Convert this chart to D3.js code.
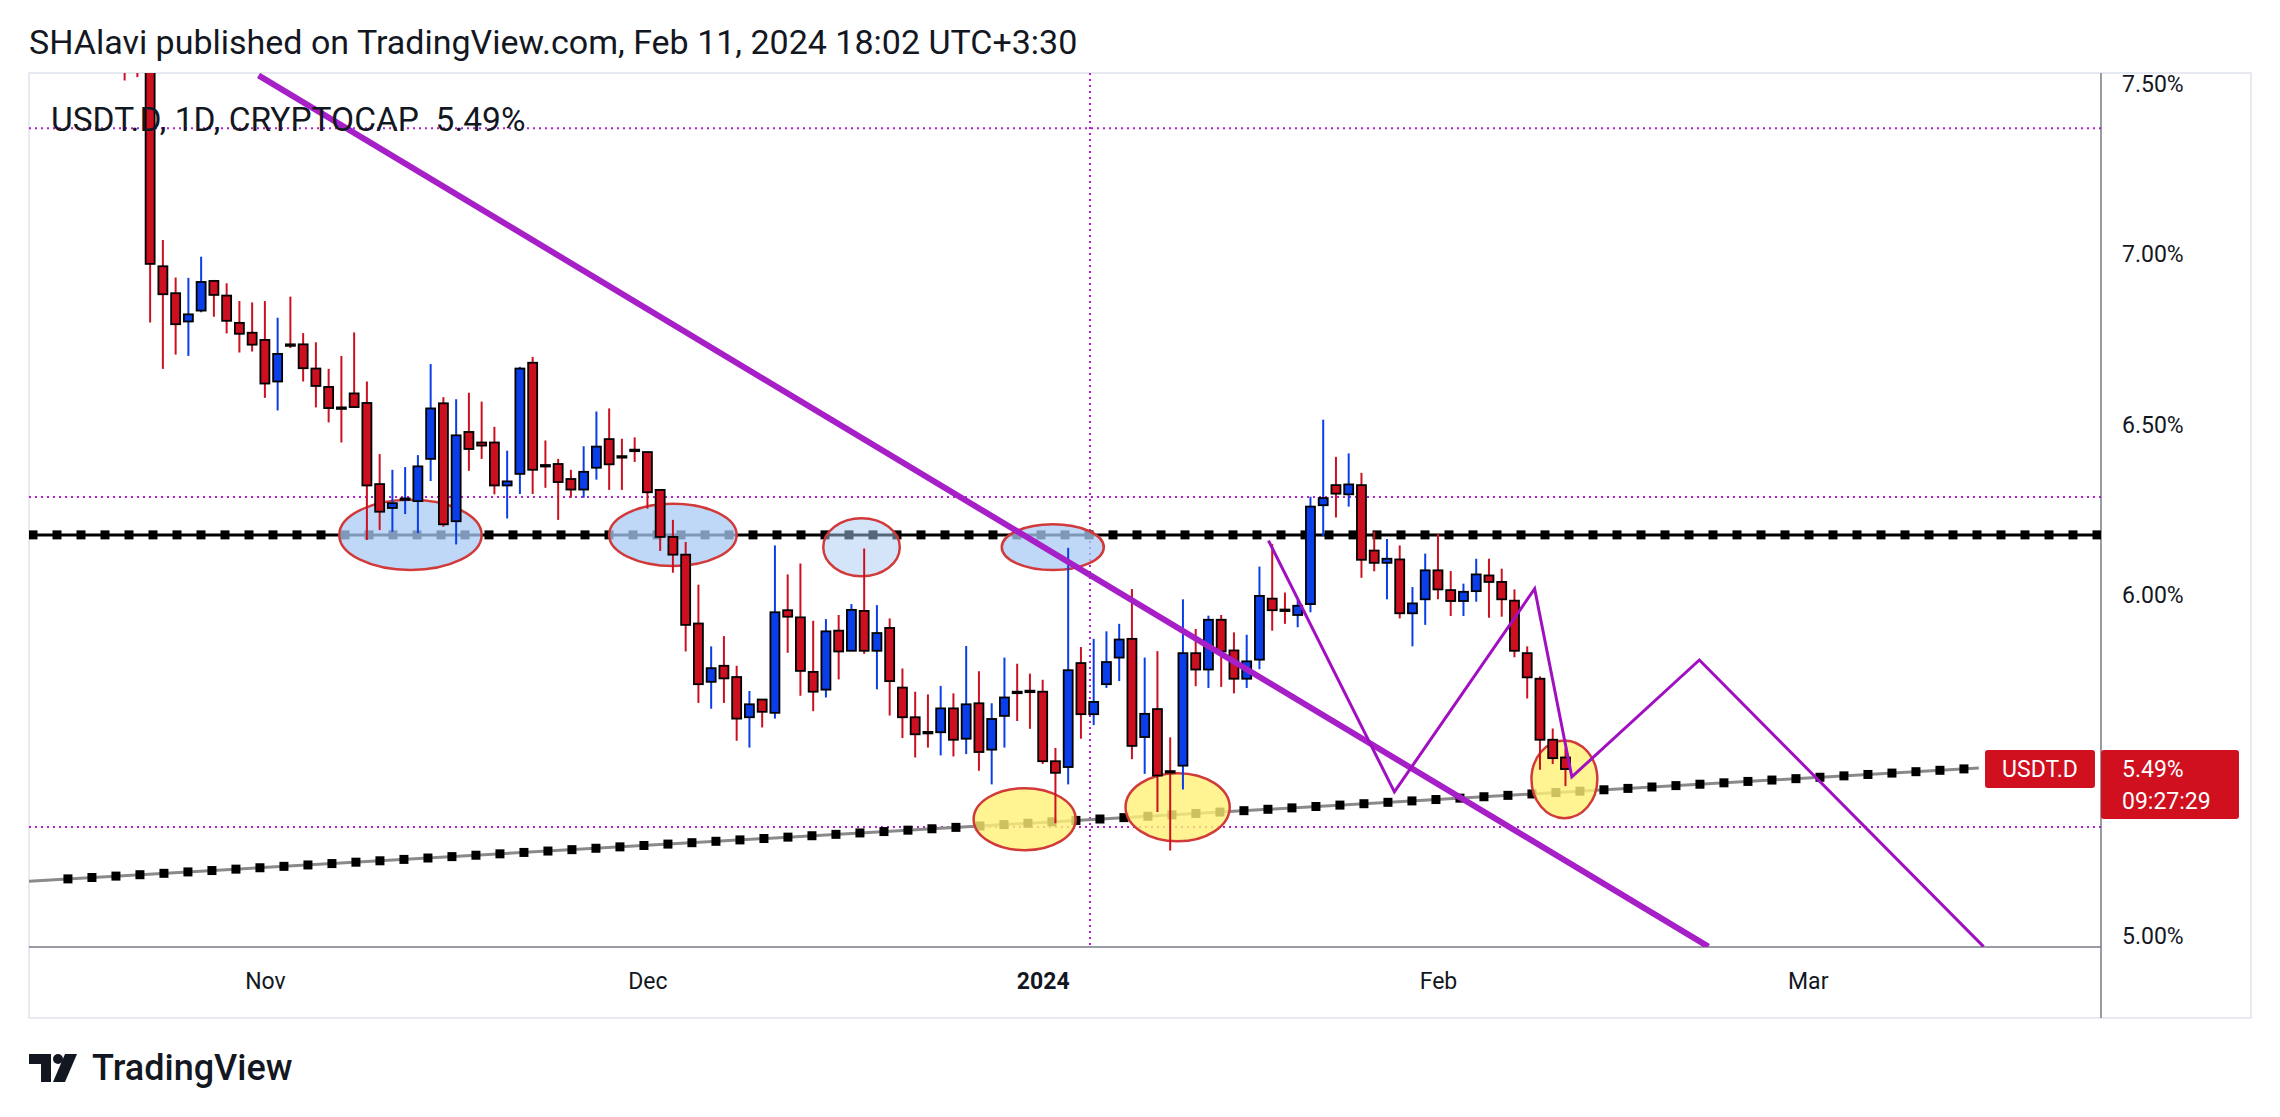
<!DOCTYPE html>
<html>
<head>
<meta charset="utf-8">
<script src="https://cdn.jsdelivr.net/npm/d3@7"></script>
<style>
  body { margin: 0; background: #fff; font-family: Roboto, "Noto Sans", sans-serif; }
  svg text { fill: #131722; }
</style>
</head>
<body>
<svg id="chart" width="2280" height="1117"></svg>
<script>
// USDT dominance, daily candles from Oct 21 2023
const startDay = new Date(2023, 9, 21);
const opens  = [7.65,7.60,7.58,6.965,6.886,6.803,6.835,6.922,6.879,6.799,6.770,
  6.749,6.627,6.736,6.736,6.665,6.611,6.551,6.592,6.564,6.326,6.256,6.283,6.276,6.40,6.563,6.217,6.479,6.448,6.448,6.322,6.356,6.682,6.382,6.385,6.341,6.310,6.374,6.458,6.408,6.427,
  6.420,6.309,6.171,6.119,5.917,5.746,5.793,5.760,5.642,5.694,5.655,5.956,5.935,5.775,5.723,5.896,5.837,5.954,5.837,5.904,5.729,5.642,5.599,5.598,5.668,5.579,5.683,5.547,5.646,5.717,5.720,
  5.717,5.513,5.496,5.801,5.651,5.739,5.817,5.872,5.584,5.666,5.484,5.500,5.830,5.782,5.928,5.838,5.755,5.811,5.990,5.958,5.942,5.974,6.264,6.323,6.296,6.323,6.131,6.095,6.105,5.947,5.988,
  6.073,6.015,5.983,6.012,6.058,6.039,5.984,5.830,5.755,5.576,5.524];
const highs  = [7.70,7.66,7.60,7.042,6.932,6.931,6.993,6.925,6.915,6.863,6.859,
  6.863,6.814,6.876,6.769,6.742,6.664,6.702,6.771,6.627,6.414,6.368,6.376,6.411,6.678,6.581,6.575,6.594,6.568,6.494,6.424,6.670,6.699,6.454,6.400,6.368,6.437,6.539,6.548,6.459,6.463,
  6.420,6.310,6.221,6.156,6.031,5.850,5.880,5.793,5.719,5.694,6.146,6.061,6.093,5.925,5.930,5.942,5.974,6.137,5.971,5.932,5.785,5.717,5.709,5.734,5.712,5.851,5.777,5.683,5.817,5.799,5.770,
  5.752,5.552,6.139,5.848,5.872,5.894,5.916,6.018,5.817,5.836,5.583,5.988,5.901,5.940,5.942,5.891,5.884,6.084,6.150,6.008,5.986,6.289,6.515,6.406,6.416,6.359,6.187,6.165,6.146,6.024,6.122,
  6.180,6.071,6.034,6.107,6.107,6.078,6.017,5.850,5.762,5.609,5.551];
const lows   = [7.51,7.52,6.80,6.664,6.706,6.702,6.830,6.817,6.768,6.712,6.715,
  6.579,6.542,6.725,6.627,6.551,6.507,6.448,6.550,6.162,6.191,6.186,6.238,6.182,6.335,6.201,6.149,6.365,6.400,6.296,6.225,6.297,6.297,6.315,6.221,6.286,6.286,6.339,6.309,6.309,6.391,
  6.254,6.130,6.066,5.835,5.684,5.667,5.684,5.573,5.553,5.612,5.638,5.831,5.705,5.660,5.700,5.753,5.837,5.828,5.724,5.647,5.581,5.524,5.553,5.530,5.527,5.534,5.485,5.445,5.553,5.631,5.608,
  5.505,5.331,5.445,5.579,5.619,5.728,5.748,5.519,5.476,5.364,5.251,5.430,5.733,5.728,5.731,5.712,5.728,5.783,5.896,5.916,5.906,5.950,6.173,6.228,6.260,6.051,6.070,5.988,5.932,5.850,5.913,
  5.988,5.939,5.939,5.981,5.934,5.937,5.818,5.697,5.488,5.505,5.440];
const closes = [7.60,7.58,6.972,6.883,6.795,6.824,6.919,6.881,6.805,6.767,6.735,
  6.621,6.708,6.734,6.666,6.614,6.549,6.549,6.552,6.322,6.245,6.270,6.284,6.378,6.548,6.208,6.469,6.429,6.439,6.322,6.334,6.665,6.368,6.381,6.332,6.310,6.362,6.436,6.384,6.407,6.426,
  6.302,6.171,6.119,5.913,5.739,5.786,5.756,5.638,5.680,5.658,5.950,5.937,5.778,5.717,5.894,5.835,5.957,5.837,5.889,5.748,5.642,5.592,5.598,5.668,5.576,5.680,5.540,5.637,5.700,5.716,5.719,
  5.513,5.479,5.780,5.651,5.687,5.804,5.870,5.558,5.652,5.471,5.483,5.830,5.782,5.928,5.835,5.755,5.806,5.998,5.956,5.957,5.969,6.260,6.285,6.298,6.325,6.104,6.095,6.107,5.947,5.976,6.073,
  6.017,5.983,6.010,6.061,6.039,5.988,5.837,5.759,5.576,5.522,5.49];
const dates = d3.timeDay.range(startDay, d3.timeDay.offset(startDay, closes.length));

const priceTicks = [5.0, 5.5, 6.0, 6.5, 7.0, 7.5];
const monthTicks = [new Date(2023,10,1), new Date(2023,11,1), new Date(2024,0,1), new Date(2024,1,1), new Date(2024,2,1)];

// drawings, in [date, price]
const trendDown  = [[new Date(2023,9,31,12), 7.525], [new Date(2024,1,22,5), 4.969]];
const trendUp    = [[new Date(2023,9,13,10), 5.161], [new Date(2024,2,14,10), 5.493]];
const zigzag     = [[new Date(2024,0,18,17), 6.16], [new Date(2024,0,28,14), 5.423], [new Date(2024,1,8,14), 6.019],
                    [new Date(2024,1,11,12), 5.467], [new Date(2024,1,21,12), 5.81], [new Date(2024,2,14,19), 4.969]];
const supportLevel = 6.177;
const hLevels    = [7.37, 6.288, 5.32];
const vLevel     = new Date(2024,0,4,17);
const circlesBlue   = [[new Date(2023,10,12,10), 6.177, 5.6, 0.103, 0.75], [new Date(2023,11,3), 6.177, 5.0, 0.091, 0.75],
                       [new Date(2023,11,17,19), 6.141, 3.0, 0.085, 0.5], [new Date(2024,0,1,19), 6.141, 4.0, 0.067, 0.75]];
const circlesYellow = [[new Date(2023,11,30,14), 5.343, 4.0, 0.091], [new Date(2024,0,11,14), 5.378, 4.1, 0.10], [new Date(2024,1,10,22), 5.46, 2.6, 0.114]];

const plot = { left: 29, right: 2101, top: 73, bottom: 947 };
const svg = d3.select('#chart');

const x = d3.scaleTime()
  .domain([new Date(2023,9,13,12), new Date(2024,2,24)])
  .range([plot.left, plot.right]);
const y = d3.scaleLinear()
  .domain([4.968, 7.532])
  .range([plot.bottom, plot.top]);

// frame
svg.append('rect').attr('x', 29).attr('y', 73).attr('width', 2222).attr('height', 945)
  .attr('fill', 'none').attr('stroke', '#e0e3eb').attr('stroke-width', 1.5);
svg.append('line').attr('x1', plot.right).attr('x2', plot.right).attr('y1', 73).attr('y2', 1018)
  .attr('stroke', '#787b86').attr('stroke-width', 1.5);
svg.append('line').attr('x1', 29).attr('x2', plot.right).attr('y1', plot.bottom).attr('y2', plot.bottom)
  .attr('stroke', '#787b86').attr('stroke-width', 1.5);

svg.append('defs').append('clipPath').attr('id', 'clip')
  .append('rect').attr('x', plot.left).attr('y', plot.top)
  .attr('width', plot.right - plot.left).attr('height', plot.bottom - plot.top);

const g = svg.append('g').attr('clip-path', 'url(#clip)');

// price axis
const yAxis = svg.append('g').attr('transform', `translate(${plot.right},0)`)
  .call(d3.axisRight(y).tickValues(priceTicks).tickSize(0).tickPadding(21)
    .tickFormat(d => d3.format('.2f')(d) + '%'));
yAxis.select('.domain').remove();
yAxis.selectAll('text').attr('font-size', 23).attr('font-family', 'Roboto').attr('fill', '#131722');

// time axis
const xAxis = svg.append('g').attr('transform', `translate(0,${plot.bottom})`)
  .call(d3.axisBottom(x).tickValues(monthTicks).tickSize(0).tickPadding(26)
    .tickFormat(d => d.getMonth() === 0 ? d3.timeFormat('%Y')(d) : d3.timeFormat('%b')(d)));
xAxis.select('.domain').remove();
xAxis.selectAll('text').attr('font-size', 23).attr('font-family', 'Roboto').attr('fill', '#131722')
  .attr('font-weight', d => d.getMonth() === 0 ? 'bold' : 'normal');

// horizontal dotted purple levels
g.selectAll('.hlev').data(hLevels).join('line')
  .attr('x1', plot.left).attr('x2', plot.right)
  .attr('y1', d => y(d)).attr('y2', d => y(d))
  .attr('stroke', '#b01fd0').attr('stroke-width', 2).attr('stroke-dasharray', '2,4');
g.append('line').attr('x1', x(vLevel)).attr('x2', x(vLevel)).attr('y1', plot.top).attr('y2', plot.bottom)
  .attr('stroke', '#b01fd0').attr('stroke-width', 2).attr('stroke-dasharray', '2,4');

// support line with square markers
const step = 24, sq = 9;
const sy = y(supportLevel);
g.append('line').attr('x1', plot.left).attr('x2', plot.right).attr('y1', sy).attr('y2', sy)
  .attr('stroke', '#000').attr('stroke-width', 3);
g.selectAll('.sq').data(d3.range(plot.left + 4, plot.right, step)).join('rect')
  .attr('x', d => d - sq / 2).attr('y', sy - sq / 2).attr('width', sq).attr('height', sq).attr('fill', '#000');

// rising trend line with square markers
const tx0 = x(trendUp[0][0]), ty0 = y(trendUp[0][1]);
const tx1 = x(trendUp[1][0]), ty1 = y(trendUp[1][1]);
g.append('line').attr('x1', tx0).attr('y1', ty0).attr('x2', tx1).attr('y2', ty1)
  .attr('stroke', '#8a8a8a').attr('stroke-width', 3);
g.selectAll('.sq2').data(d3.range(40, tx1 - tx0, step)).join('rect')
  .attr('x', t => tx0 + t - sq / 2)
  .attr('y', t => ty0 + t * (ty1 - ty0) / (tx1 - tx0) - sq / 2)
  .attr('width', sq).attr('height', sq).attr('fill', '#000');

// ellipses
const ell = (list, fill, op) => g.selectAll(null).data(list).join('ellipse')
  .attr('cx', d => x(d[0])).attr('cy', d => y(d[1]))
  .attr('rx', d => x(d3.timeHour.offset(d[0], d[2] * 24)) - x(d[0]))
  .attr('ry', d => y(d[1] - d[3]) - y(d[1]))
  .attr('fill', fill).attr('fill-opacity', d => d[4] || op)
  .attr('stroke', '#d23a3a').attr('stroke-width', 2.5);
ell(circlesBlue, '#a9cbf5', 0.75);
ell(circlesYellow, '#fff176', 0.8);

// candles
const candles = dates.map((d, i) => ({ d, o: opens[i], h: highs[i], l: lows[i], c: closes[i] }));
const up = '#0a3ee8', down = '#cc1020';
const cg = g.selectAll('.candle').data(candles).join('g');
cg.append('line')
  .attr('x1', d => x(d.d)).attr('x2', d => x(d.d))
  .attr('y1', d => y(d.h)).attr('y2', d => y(d.l))
  .attr('stroke', d => d.c >= d.o ? up : down).attr('stroke-width', 2);
cg.append('rect')
  .attr('x', d => x(d.d) - 4.5).attr('width', 9)
  .attr('y', d => y(Math.max(d.o, d.c)))
  .attr('height', d => Math.max(1.5, Math.abs(y(d.o) - y(d.c))))
  .attr('fill', d => d.c >= d.o ? up : down)
  .attr('stroke', '#000').attr('stroke-width', 1.8);

// descending thick trend line
g.append('line')
  .attr('x1', x(trendDown[0][0])).attr('y1', y(trendDown[0][1]))
  .attr('x2', x(trendDown[1][0])).attr('y2', y(trendDown[1][1]))
  .attr('stroke', '#a61fc7').attr('stroke-width', 6);

// zigzag path
g.append('path').datum(zigzag)
  .attr('d', d3.line().x(d => x(d[0])).y(d => y(d[1])))
  .attr('fill', 'none').attr('stroke', '#a010c0').attr('stroke-width', 3);

// last price labels
const ly = y(closes[closes.length - 1]);
svg.append('rect').attr('x', 1985).attr('y', ly - 19).attr('width', 110).attr('height', 38).attr('rx', 3).attr('fill', '#d0101f');
svg.append('text').attr('x', 2040).attr('y', ly + 8).attr('text-anchor', 'middle').attr('font-size', 23)
  .style('fill', '#fff').text('USDT.D');
svg.append('rect').attr('x', plot.right).attr('y', ly - 19).attr('width', 138).attr('height', 69).attr('rx', 3).attr('fill', '#d0101f');
svg.append('text').attr('x', 2122).attr('y', ly + 8).attr('font-size', 23).style('fill', '#fff').text('5.49%');
svg.append('text').attr('x', 2122).attr('y', ly + 40).attr('font-size', 23).style('fill', '#fff').text('09:27:29');

// titles
svg.append('text').attr('x', 29).attr('y', 54).attr('font-size', 34).text('SHAlavi published on TradingView.com, Feb 11, 2024 18:02 UTC+3:30');
svg.append('text').attr('x', 51).attr('y', 131).attr('font-size', 33.5).text('USDT.D, 1D, CRYPTOCAP\u00a0\u00a05.49%');

// footer logo
const logo = svg.append('g').attr('transform', 'translate(29,1054)');
logo.append('path').attr('d', 'M0 0 H22 V28 H12 V10 H0 Z').attr('fill', '#131722');
logo.append('circle').attr('cx', 29).attr('cy', 5).attr('r', 5).attr('fill', '#131722');
logo.append('path').attr('d', 'M36 0 H48 L36 28 H24 Z').attr('fill', '#131722');
svg.append('text').attr('x', 92).attr('y', 1080).attr('font-size', 36).attr('font-weight', 500).text('TradingView');
</script>
</body>
</html>
